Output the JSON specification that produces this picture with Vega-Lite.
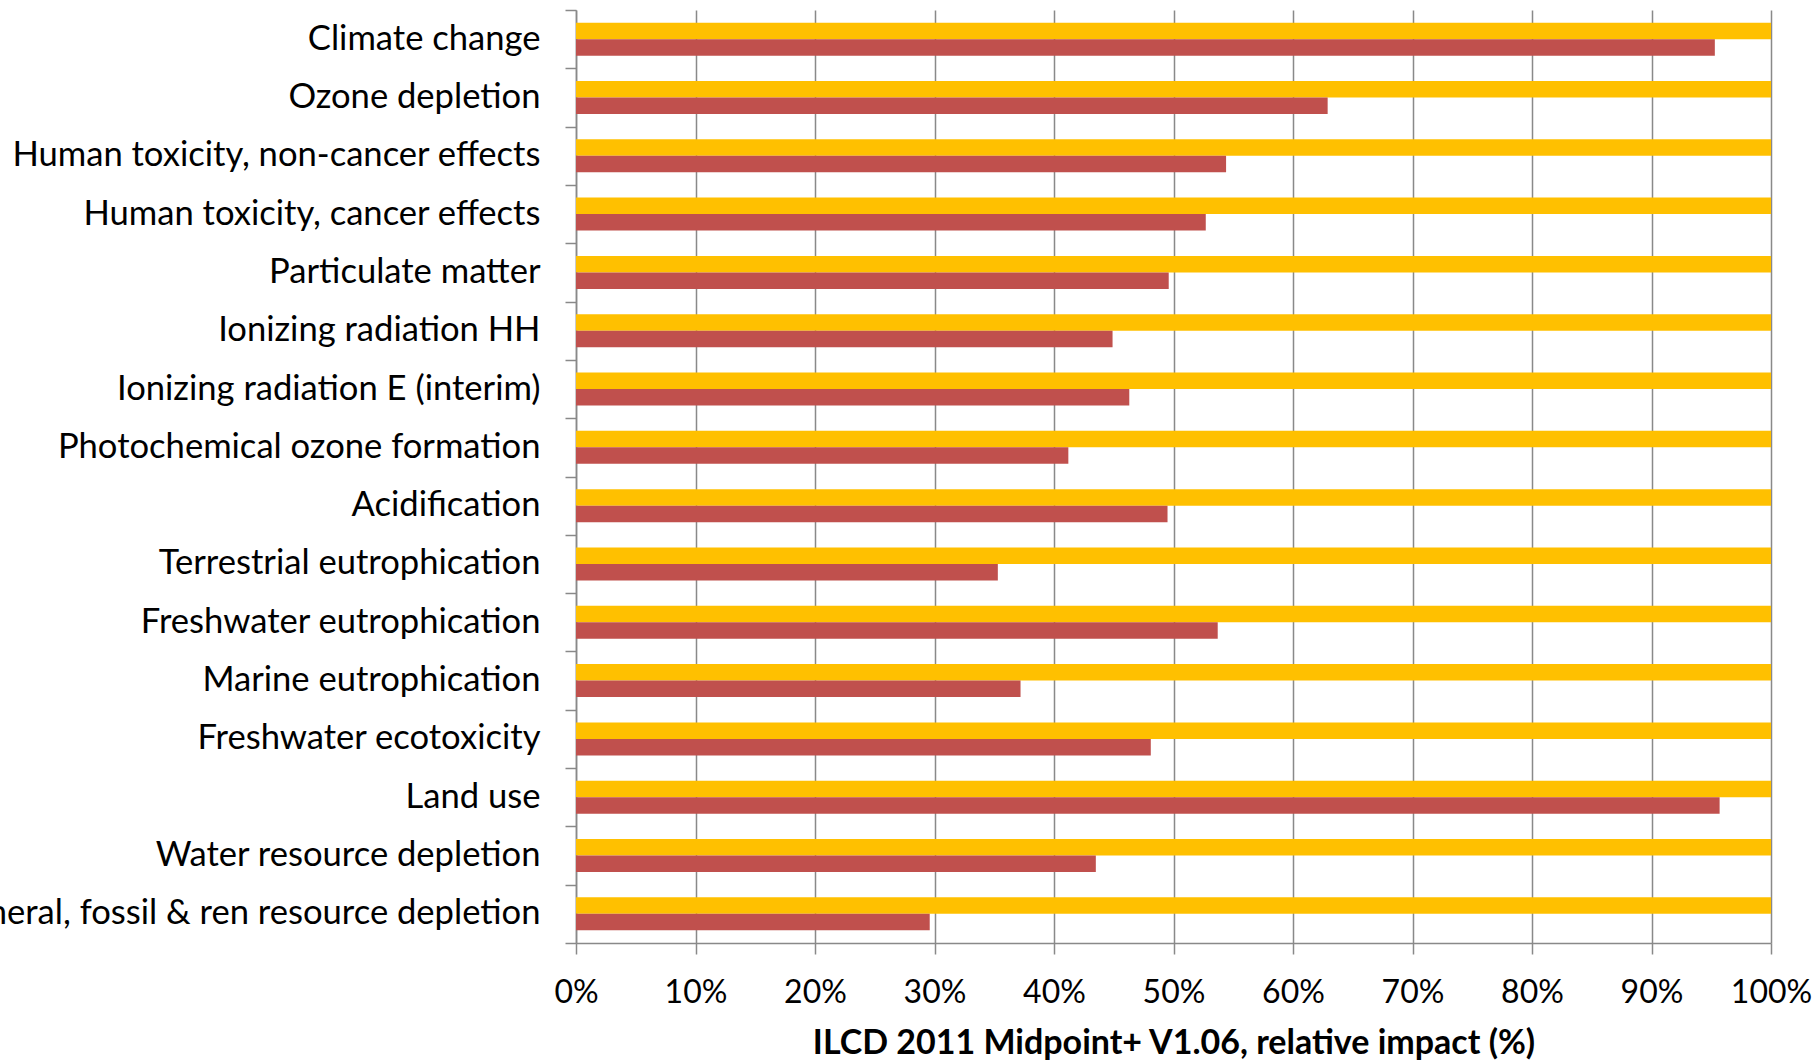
{
  "$schema": "https://vega.github.io/schema/vega-lite/v6.json",
  "width": 1195,
  "height": 933,
  "autosize": {"type": "none"},
  "padding": {"left": 576, "top": 10, "right": 48, "bottom": 119},
  "background": "white",
  "config": {"view": {"stroke": null}, "font": "Lato"},
  "data": {
    "values": [
      {"category": "Climate change", "series": "Reference", "value": 1.0},
      {"category": "Climate change", "series": "Alternative", "value": 0.953},
      {"category": "Ozone depletion", "series": "Reference", "value": 1.0},
      {"category": "Ozone depletion", "series": "Alternative", "value": 0.629},
      {"category": "Human toxicity, non-cancer effects", "series": "Reference", "value": 1.0},
      {"category": "Human toxicity, non-cancer effects", "series": "Alternative", "value": 0.544},
      {"category": "Human toxicity, cancer effects", "series": "Reference", "value": 1.0},
      {"category": "Human toxicity, cancer effects", "series": "Alternative", "value": 0.527},
      {"category": "Particulate matter", "series": "Reference", "value": 1.0},
      {"category": "Particulate matter", "series": "Alternative", "value": 0.496},
      {"category": "Ionizing radiation HH", "series": "Reference", "value": 1.0},
      {"category": "Ionizing radiation HH", "series": "Alternative", "value": 0.449},
      {"category": "Ionizing radiation E (interim)", "series": "Reference", "value": 1.0},
      {"category": "Ionizing radiation E (interim)", "series": "Alternative", "value": 0.463},
      {"category": "Photochemical ozone formation", "series": "Reference", "value": 1.0},
      {"category": "Photochemical ozone formation", "series": "Alternative", "value": 0.412},
      {"category": "Acidification", "series": "Reference", "value": 1.0},
      {"category": "Acidification", "series": "Alternative", "value": 0.495},
      {"category": "Terrestrial eutrophication", "series": "Reference", "value": 1.0},
      {"category": "Terrestrial eutrophication", "series": "Alternative", "value": 0.353},
      {"category": "Freshwater eutrophication", "series": "Reference", "value": 1.0},
      {"category": "Freshwater eutrophication", "series": "Alternative", "value": 0.537},
      {"category": "Marine eutrophication", "series": "Reference", "value": 1.0},
      {"category": "Marine eutrophication", "series": "Alternative", "value": 0.372},
      {"category": "Freshwater ecotoxicity", "series": "Reference", "value": 1.0},
      {"category": "Freshwater ecotoxicity", "series": "Alternative", "value": 0.481},
      {"category": "Land use", "series": "Reference", "value": 1.0},
      {"category": "Land use", "series": "Alternative", "value": 0.957},
      {"category": "Water resource depletion", "series": "Reference", "value": 1.0},
      {"category": "Water resource depletion", "series": "Alternative", "value": 0.435},
      {"category": "Mineral, fossil & ren resource depletion", "series": "Reference", "value": 1.0},
      {"category": "Mineral, fossil & ren resource depletion", "series": "Alternative", "value": 0.296}
    ]
  },
  "mark": {"type": "bar"},
  "encoding": {
    "y": {
      "field": "category",
      "type": "nominal",
      "sort": null,
      "scale": {"paddingInner": 0, "paddingOuter": 0},
      "axis": {
        "title": null,
        "tickBand": "extent",
        "labelFontSize": 34.6,
        "labelColor": "#000000",
        "labelPadding": 25,
        "labelLimit": 1000,
        "tickSize": 11,
        "tickColor": "#898989",
        "tickWidth": 1.5,
        "domainColor": "#898989",
        "domainWidth": 1.5,
        "grid": false
      }
    },
    "yOffset": {
      "field": "series",
      "type": "nominal",
      "sort": ["Reference", "Alternative"],
      "scale": {"paddingInner": 0, "paddingOuter": 0.77}
    },
    "x": {
      "field": "value",
      "type": "quantitative",
      "scale": {"domain": [0, 1], "nice": false},
      "axis": {
        "values": [0, 0.1, 0.2, 0.3, 0.4, 0.5, 0.6, 0.7, 0.8, 0.9, 1.0],
        "format": "%",
        "grid": true,
        "gridColor": "#898989",
        "gridWidth": 1.5,
        "tickSize": 11,
        "tickColor": "#898989",
        "tickWidth": 1.5,
        "domainColor": "#898989",
        "domainWidth": 1.5,
        "labelFontSize": 32,
        "labelColor": "#000000",
        "labelPadding": 23,
        "labelFlush": false,
        "title": "ILCD 2011 Midpoint+ V1.06, relative impact (%)",
        "titleFontSize": 34,
        "titleFontWeight": "bold",
        "titleColor": "#000000",
        "titlePadding": 18
      }
    },
    "color": {
      "field": "series",
      "type": "nominal",
      "scale": {"domain": ["Reference", "Alternative"], "range": ["#FFC000", "#C0504D"]},
      "legend": null
    }
  }
}
